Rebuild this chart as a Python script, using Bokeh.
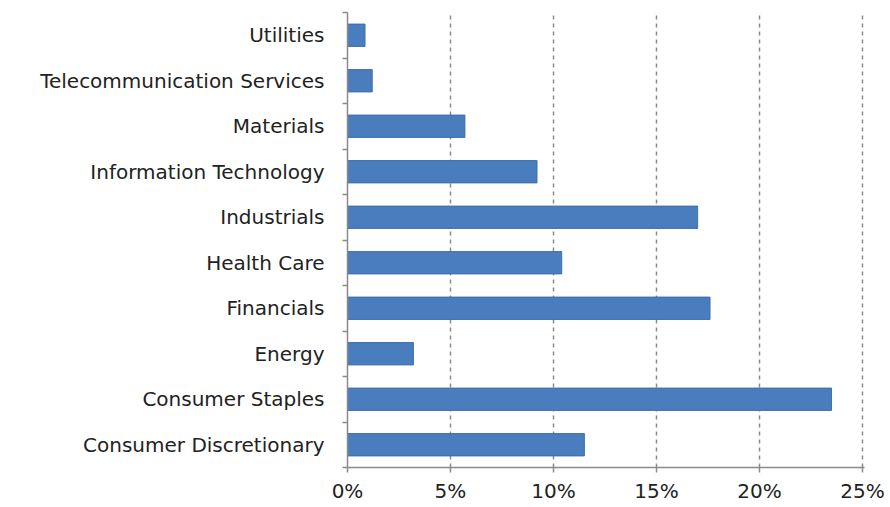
from bokeh.plotting import figure
from bokeh.models import Range1d, FixedTicker, NumeralTickFormatter, ColumnDataSource
from bokeh.embed import file_html
from bokeh.resources import INLINE

sectors = ["Consumer Discretionary", "Consumer Staples", "Energy", "Financials",
           "Health Care", "Industrials", "Information Technology", "Materials",
           "Telecommunication Services", "Utilities"]
weights = [0.115, 0.235, 0.032, 0.176, 0.104, 0.170, 0.092, 0.057, 0.012, 0.0085]
x_ticks = [0, 0.05, 0.10, 0.15, 0.20, 0.25]

n = len(sectors)
slot = [i + 0.5 for i in range(n)]
src = ColumnDataSource(dict(sector=sectors, weight=weights, slot=slot))

FONT = "DejaVu Sans"

p = figure(width=890, height=507, y_range=Range1d(0, n), x_range=Range1d(0, 0.251),
           output_backend="svg", toolbar_location=None,
           min_border_left=347, min_border_right=26, min_border_top=12, min_border_bottom=40)
p.outline_line_color = None
p.background_fill_color = "white"
p.border_fill_color = "white"

p.hbar(y="slot", right="weight", left=0, height=0.49, source=src,
       fill_color="#4A7DBE", line_color="#3E6EAA", line_width=1)

# grid
p.ygrid.grid_line_color = None
p.xgrid.ticker = FixedTicker(ticks=x_ticks[1:])
p.xgrid.grid_line_color = "#8a8a8a"
p.xgrid.grid_line_dash = "4 4"
p.xgrid.grid_line_width = 1.5

# x axis
xa = p.xaxis[0]
xa.ticker = FixedTicker(ticks=x_ticks)
xa.formatter = NumeralTickFormatter(format="0%")
xa.axis_line_color = "#8a8a8a"
xa.axis_line_width = 1.5
xa.major_tick_line_color = "#8a8a8a"
xa.major_tick_line_width = 1.5
xa.major_tick_out = 5
xa.major_tick_in = 0
xa.minor_tick_line_color = None
xa.major_label_standoff = 6
xa.major_label_text_font = FONT
xa.major_label_text_font_size = "20px"
xa.major_label_text_color = "#222222"

# y axis: labels at slot centres, boundary ticks as minor ticks
ya = p.yaxis[0]
ya.ticker = FixedTicker(ticks=slot, minor_ticks=list(range(n + 1)))
ya.major_label_overrides = {s: name for s, name in zip(slot, sectors)}
ya.axis_line_color = "#8a8a8a"
ya.axis_line_width = 1.5
ya.major_tick_line_color = None
ya.major_tick_out = 0
ya.major_tick_in = 0
ya.minor_tick_line_color = "#8a8a8a"
ya.minor_tick_line_width = 1.5
ya.minor_tick_out = 5
ya.minor_tick_in = 0
ya.major_label_standoff = 18
ya.major_label_text_font = FONT
ya.major_label_text_font_size = "20px"
ya.major_label_text_color = "#222222"

open("out.html", "w").write(file_html(p, INLINE))
